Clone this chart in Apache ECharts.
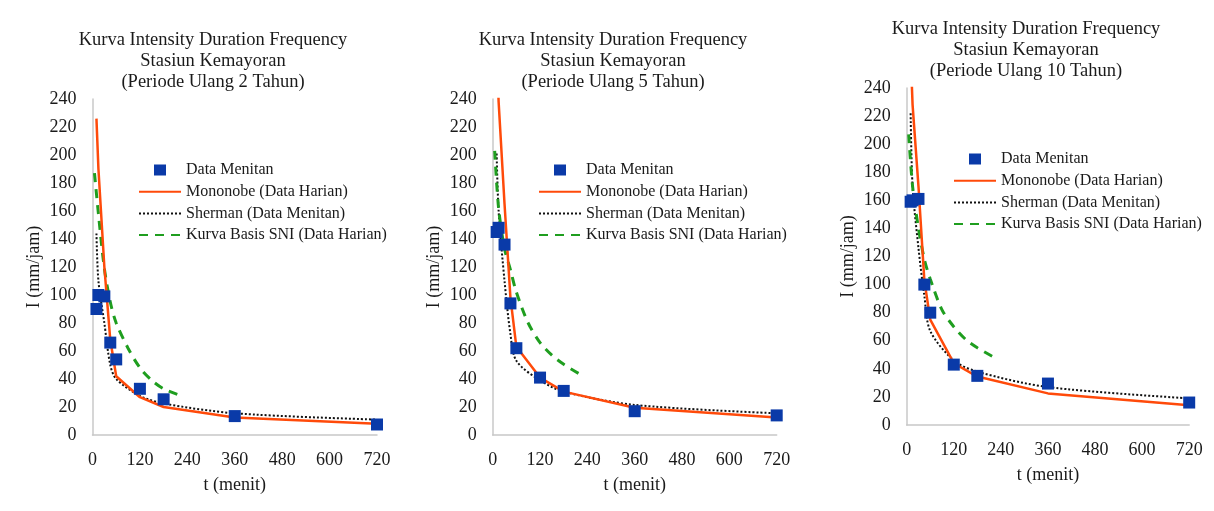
<!DOCTYPE html>
<html>
<head>
<meta charset="utf-8">
<script src="https://cdn.jsdelivr.net/npm/echarts@6/dist/echarts.min.js"></script>
<style>
  html, body { margin: 0; padding: 0; background: #fff; }
  #idf-chart { width: 1214px; height: 511px; }
</style>
</head>
<body>
<div id="idf-chart"></div>
<script>
// durasi (menit)
const durations = [10, 15, 30, 45, 60, 120, 180, 360, 720]
const sniDurations = [5, 15, 30, 45, 60, 90, 120, 150, 180, 220]
const xTicks = [0, 120, 240, 360, 480, 600, 720]
const yTicks = [0, 20, 40, 60, 80, 100, 120, 140, 160, 180, 200, 220, 240]

const periods = ['2', '5', '10']

// intensitas (mm/jam), periode ulang 2 / 5 / 10 tahun
const menitan2 = [90, 100, 99, 66, 54, 33, 25.5, 13.5, 7.5]
const menitan5 = [145, 148, 136, 94, 62, 41, 31.5, 17, 14]
const menitan10 = [159, 160, 161, 100, 80, 43, 35, 29.5, 16]

const mononobe2 = [226, 190, 120, 68, 42, 27, 20, 12.5, 8]
const mononobe5 = [280, 238, 165, 98, 63, 41, 31, 19.5, 12.5]
const mononobe10 = [265, 228, 170, 103, 75, 44, 34.5, 22.5, 14]

const sherman2 = [144, 110, 80, 50, 40, 28, 22.5, 15.5, 11]
const sherman5 = [201, 160, 110, 72, 53, 39, 31, 21.5, 15.5]
const sherman10 = [222, 170, 126, 92, 67, 46, 38, 27, 19]

const sni2 = [187, 158, 119, 95, 80, 62, 48, 39, 33, 28.5]
const sni5 = [203, 162, 133, 118, 102, 80, 66, 57, 50.5, 43.6]
const sni10 = [207, 170, 140, 118, 104, 82, 70, 61, 55, 48.6]

const seriesNames = ['Data Menitan', 'Mononobe (Data Harian)', 'Sherman (Data Menitan)', 'Kurva Basis SNI (Data Harian)']

const panels = [
  {menitan: menitan2, mononobe: mononobe2, sherman: sherman2, sni: sni2},
  {menitan: menitan5, mononobe: mononobe5, sherman: sherman5, sni: sni5},
  {menitan: menitan10, mononobe: mononobe10, sherman: sherman10, sni: sni10}
]

// posisi tiap panel
const layout = [
  {left: 92.5, top: 99, width: 284.5, height: 336, titleX: 213, titleTop: 29.5, legendX: 138, legendTop: 162},
  {left: 492.7, top: 99, width: 284, height: 336, titleX: 613, titleTop: 29.5, legendX: 538, legendTop: 162},
  {left: 906.7, top: 88, width: 282.5, height: 337, titleX: 1026, titleTop: 18.5, legendX: 953, legendTop: 151}
]

const font = '"Liberation Serif", "Times New Roman", serif'
const pairs = (xs, ys) => xs.map((x, i) => [x, ys[i]])

// kotak kecil di tengah ikon legenda (bukan kotak melebar)
const squareIcon = 'path://M0,0L0.01,0M15,0H27V11H15ZM41.99,11L42,11'

let chart = echarts.init(document.getElementById('idf-chart'))

const option = {
  animation: false,
  backgroundColor: '#fff',
  textStyle: {fontFamily: font},
  title: [],
  legend: [],
  grid: [],
  xAxis: [],
  yAxis: [],
  series: []
}

panels.forEach((p, i) => {
  const l = layout[i]
  option.title.push({
    text: 'Kurva Intensity Duration Frequency\nStasiun Kemayoran\n(Periode Ulang ' + periods[i] + ' Tahun)',
    left: l.titleX,
    top: l.titleTop,
    textAlign: 'center',
    padding: 0,
    textStyle: {fontFamily: font, fontSize: 18.5, fontWeight: 'normal', color: '#1a1a1a', lineHeight: 21}
  })
  option.legend.push({
    data: [
      {name: seriesNames[0], icon: squareIcon},
      {name: seriesNames[1], itemStyle: {opacity: 0}},
      {name: seriesNames[2], itemStyle: {opacity: 0}},
      {name: seriesNames[3], itemStyle: {opacity: 0}}
    ],
    orient: 'vertical',
    left: l.legendX,
    top: l.legendTop,
    padding: 0,
    itemWidth: 42,
    itemHeight: 11,
    itemGap: 5.7,
    selectedMode: false,
    textStyle: {fontFamily: font, fontSize: 16, color: '#1a1a1a', lineHeight: 16}
  })
  option.grid.push({left: l.left, top: l.top, width: l.width, height: l.height})
  option.xAxis.push({
    gridIndex: i,
    type: 'value',
    min: xTicks[0],
    max: xTicks[xTicks.length - 1],
    interval: xTicks[1] - xTicks[0],
    name: 't (menit)',
    nameLocation: 'middle',
    nameGap: 41,
    nameTextStyle: {fontFamily: font, fontSize: 18, color: '#1a1a1a'},
    axisLine: {lineStyle: {color: '#c8c8c8', width: 1.5}},
    axisTick: {show: false},
    splitLine: {show: false},
    axisLabel: {fontFamily: font, fontSize: 18, color: '#1a1a1a', margin: 16}
  })
  option.yAxis.push({
    gridIndex: i,
    type: 'value',
    min: yTicks[0],
    max: yTicks[yTicks.length - 1],
    interval: yTicks[1] - yTicks[0],
    name: 'I (mm/jam)',
    nameLocation: 'middle',
    nameGap: 49,
    nameTextStyle: {fontFamily: font, fontSize: 18, color: '#1a1a1a'},
    axisLine: {show: true, lineStyle: {color: '#c8c8c8', width: 1.5}},
    axisTick: {show: false},
    splitLine: {show: false},
    axisLabel: {fontFamily: font, fontSize: 18, color: '#1a1a1a', margin: 16}
  })

  option.series.push(
    {
      name: seriesNames[2],
      type: 'line',
      xAxisIndex: i,
      yAxisIndex: i,
      data: pairs(durations, p.sherman),
      smooth: 0.3,
      symbol: 'none',
      z: 2,
      lineStyle: {color: '#111', width: 2, type: [2, 2]},
      itemStyle: {color: '#111'}
    },
    {
      name: seriesNames[3],
      type: 'line',
      xAxisIndex: i,
      yAxisIndex: i,
      data: pairs(sniDurations, p.sni),
      smooth: 0.3,
      symbol: 'none',
      z: 3,
      lineStyle: {color: '#1f9e1f', width: 3, type: [9, 7]},
      itemStyle: {color: '#1f9e1f'}
    },
    {
      name: seriesNames[1],
      type: 'line',
      xAxisIndex: i,
      yAxisIndex: i,
      data: pairs(durations, p.mononobe),
      symbol: 'none',
      z: 4,
      lineStyle: {color: '#ff4a0a', width: 2.5},
      itemStyle: {color: '#ff4a0a'}
    },
    {
      name: seriesNames[0],
      type: 'scatter',
      xAxisIndex: i,
      yAxisIndex: i,
      data: pairs(durations, p.menitan),
      symbol: 'rect',
      symbolSize: 12,
      z: 5,
      itemStyle: {color: '#0a3aa8', opacity: 1}
    }
  )
})

chart.setOption(option)
</script>
</body>
</html>
